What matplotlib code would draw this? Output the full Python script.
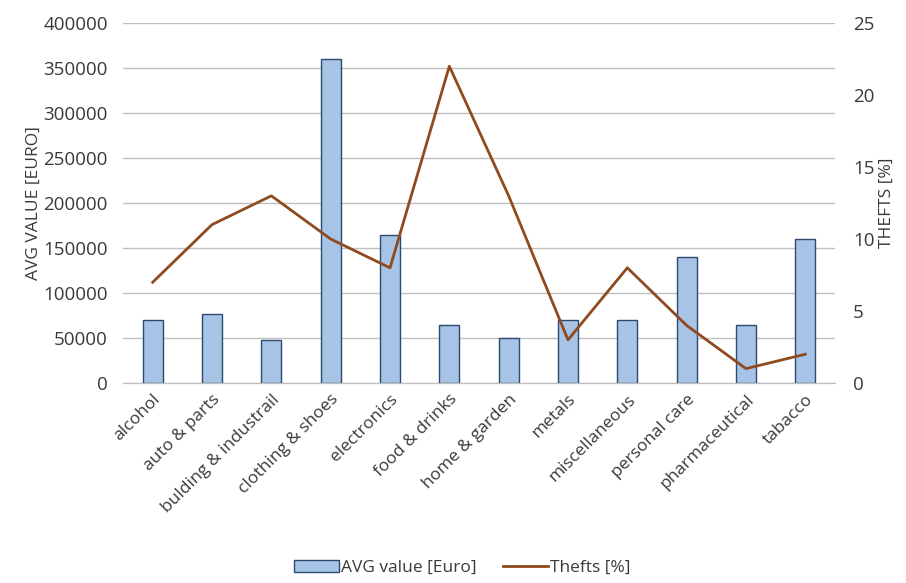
import numpy as np
import matplotlib.pyplot as plt

# categories and values
categories = ["alcohol", "auto & parts", "bulding & industrail", "clothing & shoes",
              "electronics", "food & drinks", "home & garden", "metals",
              "miscellaneous", "personal care", "pharmaceutical", "tabacco"]
avg_value = [70000, 77000, 48000, 360000, 165000, 65000, 50000, 70000,
             70000, 140000, 65000, 160000]
thefts = [7, 11, 13, 10, 8, 22, 13, 3, 8, 4, 1, 2]

plt.rcParams['font.family'] = ['Open Sans', 'DejaVu Sans']
text_col = "#3a3a3a"
fs = 12.5

fig = plt.figure(figsize=(9.06, 5.83), dpi=100)
ax = fig.add_axes([0.1358, 0.343, 0.7858, 0.6175])
ax2 = ax.twinx()

x = np.arange(len(categories))
bars = ax.bar(x, avg_value, width=0.34, color="#a7c3e6", edgecolor="#2c4a6e",
              linewidth=1.0, zorder=3, label="AVG value [Euro]")
line, = ax2.plot(x, thefts, color="#8f4b1f", linewidth=2.0, label="Thefts [%]", zorder=4)

ax.set_xlim(-0.5, len(categories) - 0.5)
ax.set_ylim(0, 400000)
ax.set_yticks(np.arange(0, 400001, 50000))
ax2.set_ylim(0, 25)
ax2.set_yticks(np.arange(0, 26, 5))

ax.grid(axis="y", color="#bfbfbf", linewidth=1.0, zorder=0)
ax.set_axisbelow(True)
for a in (ax, ax2):
    for s in ("top", "left", "right"):
        a.spines[s].set_visible(False)
    a.spines["bottom"].set_color("#bfbfbf")
    a.tick_params(length=0, colors=text_col, labelsize=fs)

ax.set_xticks(x)
ax.set_xticklabels(categories, rotation=45, ha="right", rotation_mode="anchor")
ax.tick_params(axis="x", pad=6)
ax.tick_params(axis="y", pad=11, labelsize=13.5)
ax2.tick_params(axis="y", pad=13, labelsize=13.5)

ax.set_ylabel("AVG VALUE [EURO]", color=text_col, fontsize=fs, labelpad=1)
ax2.set_ylabel("THEFTS [%]", color=text_col, fontsize=fs, labelpad=3)

ax2.set_zorder(ax.get_zorder() + 1)
ax2.patch.set_visible(False)

fig.legend(handles=[bars, line], loc="lower center", bbox_to_anchor=(0.51, -0.015),
           ncol=2, frameon=False, fontsize=fs, handlelength=2.6,
           handletextpad=0.1, columnspacing=1.5, labelcolor=text_col)

fig.savefig("out.png", dpi=100)
